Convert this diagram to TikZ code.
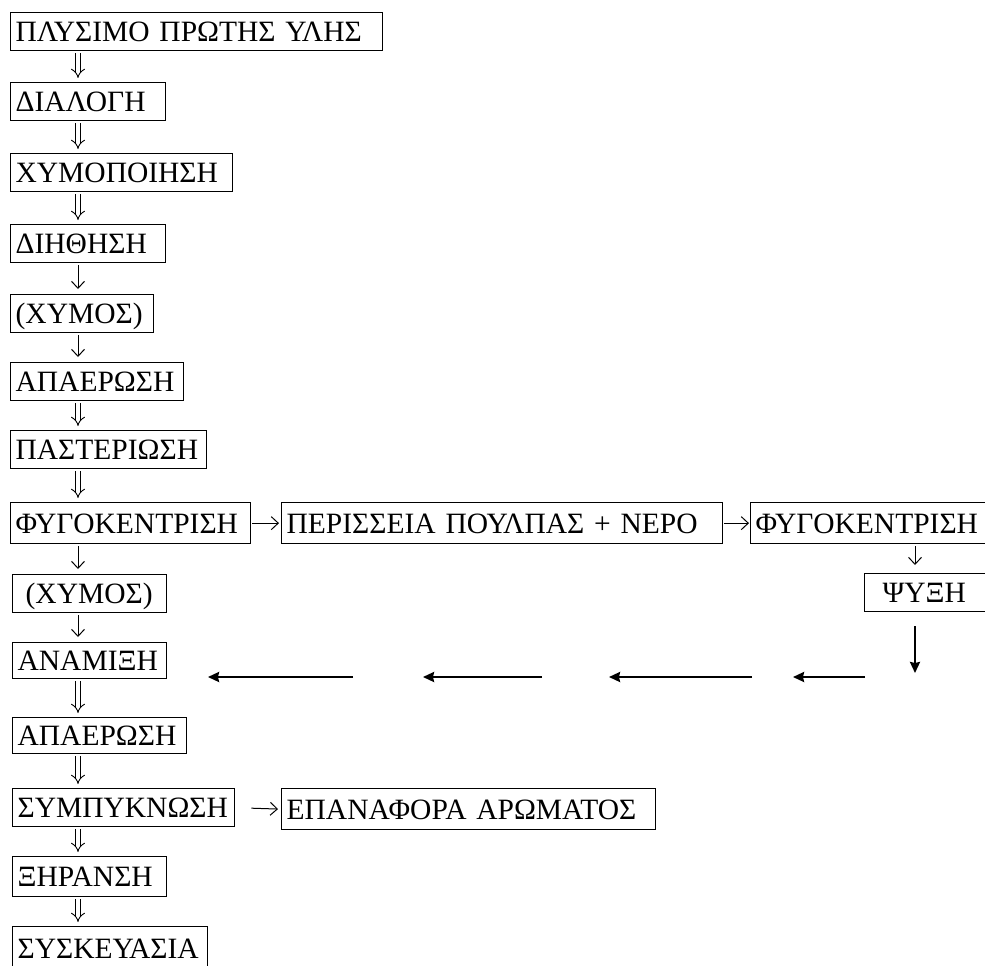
\documentclass[tikz,border=0pt]{standalone}
\usepackage{fontspec}
\setmainfont{Liberation Serif}
\usetikzlibrary{arrows.meta}

\tikzset{
  procbox/.style={draw, line width=1.3pt, anchor=north west, inner xsep=5pt, inner ysep=0pt,
    minimum height=38pt, text height=20pt, text depth=0pt, align=left,
    font=\fontsize{29.5}{32}\selectfont},
  dblarrow/.style={double=white, double distance=4pt, line width=0.9pt, -{Implies},
    shorten <=2pt, shorten >=4pt},
  thinarrow/.style={line width=1pt, -{Straight Barb[length=7pt,width=13pt]}},
  fbarrow/.style={line width=2.2pt, -{Stealth[length=11pt,width=10pt,inset=1pt]}}
}

\begin{document}
\begin{tikzpicture}[x=1pt,y=-1pt]

    \useasboundingbox (0,0) rectangle (985,966);

    % kyria grammi
    \node[procbox, text width=362pt] (plys) at (10,12) {ΠΛΥΣΙΜΟ ΠΡΩΤΗΣ ΥΛΗΣ};
    \node[procbox, text width=145pt] (dial) at (10,82) {ΔΙΑΛΟΓΗ};
    \node[procbox, text width=212pt] (xymop) at (10,153) {ΧΥΜΟΠΟΙΗΣΗ};
    \node[procbox, text width=145pt] (dihth) at (10,224) {ΔΙΗΘΗΣΗ};
    \node[procbox, text width=133pt] (xymA) at (10,294) {(ΧΥΜΟΣ)};
    \node[procbox, text width=163pt] (apaerA) at (10,362) {ΑΠΑΕΡΩΣΗ};
    \node[procbox, text width=186pt] (past) at (10,430) {ΠΑΣΤΕΡΙΩΣΗ};
    \node[procbox, text width=230pt, minimum height=41pt] (fygA) at (10,502) {ΦΥΓΟΚΕΝΤΡΙΣΗ};
    \node[procbox, text width=144pt] (xymB) at (12,574) {\hspace*{8pt}(ΧΥΜΟΣ)};
    \node[procbox, text width=144pt, minimum height=36pt] (anam) at (12,642) {ΑΝΑΜΙΞΗ};
    \node[procbox, text width=164pt, minimum height=36pt] (apaerB) at (12,717) {ΑΠΑΕΡΩΣΗ};
    \node[procbox, text width=212pt] (symp) at (12,788) {ΣΥΜΠΥΚΝΩΣΗ};
    \node[procbox, text width=144pt, minimum height=40pt] (xir) at (12,856) {ΞΗΡΑΝΣΗ};
    \node[procbox, text width=185pt, minimum height=44pt] (sysk) at (12,926) {ΣΥΣΚΕΥΑΣΙΑ};

    % deksia
    \node[procbox, text width=431pt, minimum height=41pt] (peris) at (281,502) {ΠΕΡΙΣΣΕΙΑ ΠΟΥΛΠΑΣ + ΝΕΡΟ};
    \node[procbox, text width=230pt, minimum height=41pt] (fygB) at (750,502) {ΦΥΓΟΚΕΝΤΡΙΣΗ};
    \node[procbox, text width=116pt] (psyxi) at (864,573) {\hspace*{13pt}ΨΥΞΗ};
    \node[procbox, text width=364pt, minimum height=41pt] (epan) at (281,788) {ΕΠΑΝΑΦΟΡΑ ΑΡΩΜΑΤΟΣ};

    \coordinate (col) at (78,0);
    \coordinate (rcol) at (915,0);

    % velh kyrias grammis
    \draw[dblarrow] (col |- plys.south) -- (col |- dial.north);
    \draw[dblarrow] (col |- dial.south) -- (col |- xymop.north);
    \draw[dblarrow] (col |- xymop.south) -- (col |- dihth.north);
    \draw[thinarrow, shorten <=2pt, shorten >=5pt] (col |- dihth.south) -- (col |- xymA.north);
    \draw[thinarrow, shorten <=2pt, shorten >=5pt] (col |- xymA.south) -- (col |- apaerA.north);
    \draw[dblarrow] (col |- apaerA.south) -- (col |- past.north);
    \draw[dblarrow] (col |- past.south) -- (col |- fygA.north);
    \draw[thinarrow, shorten <=2pt, shorten >=5pt] (col |- fygA.south) -- (col |- xymB.north);
    \draw[thinarrow, shorten <=2pt, shorten >=5pt] (col |- xymB.south) -- (col |- anam.north);
    \draw[dblarrow] (col |- anam.south) -- (col |- apaerB.north);
    \draw[dblarrow] (col |- apaerB.south) -- (col |- symp.north);
    \draw[dblarrow] (col |- symp.south) -- (col |- xir.north);
    \draw[dblarrow] (col |- xir.south) -- (col |- sysk.north);

    % orizontia
    \draw[thinarrow, shorten <=1pt, shorten >=2pt] (fygA.east) -- (peris.west);
    \draw[thinarrow, shorten <=1pt, shorten >=1pt] (peris.east) -- (fygB.west);
    \draw[thinarrow, shorten <=16pt, shorten >=3pt] (symp.east) -- (epan.west);

    % epistrofi
    \draw[thinarrow, shorten <=2pt, shorten >=8pt] (rcol |- fygB.south) -- (rcol |- psyxi.north);
    \coordinate (turn) at (915,673);
    \draw[fbarrow, shorten <=14pt] (rcol |- psyxi.south) -- (turn);
    \foreach \s/\e [count=\i] in {865/793, 752/609, 542/423, 353/208} {
      \coordinate (ret\i a) at (\s,677);
      \coordinate (ret\i b) at (\e,677);
      \draw[fbarrow] (ret\i a) -- (ret\i b);
    }

\end{tikzpicture}
\end{document}
